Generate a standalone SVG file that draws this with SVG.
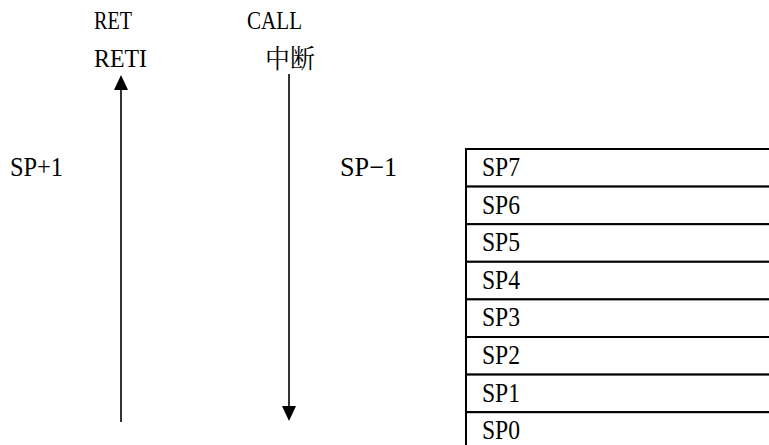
<svg xmlns="http://www.w3.org/2000/svg" width="769" height="445" viewBox="0 0 769 445">
<style>
.t{font-family:"Liberation Serif","Noto Sans CJK SC",serif;font-size:26px;fill:#000}
.s{font-family:"Liberation Serif","Noto Sans CJK SC",serif;font-size:27px;fill:#000}
.c{font-family:"Noto Serif CJK SC","Noto Sans CJK SC",serif;font-size:26px;fill:#000}
.ln{stroke:#000;stroke-width:1.6;fill:none}
.cell{stroke:#000;stroke-width:2;fill:#fff}
</style>
<rect width="769" height="445" fill="#fff"/>
<g id="labels">
<text class="t" x="94" y="29" textLength="38" lengthAdjust="spacingAndGlyphs">RET</text>
<text class="t" x="94" y="67" textLength="53" lengthAdjust="spacingAndGlyphs">RETI</text>
<text class="t" x="247" y="29" textLength="55" lengthAdjust="spacingAndGlyphs">CALL</text>
<text class="c" x="265" y="68" textLength="50" lengthAdjust="spacingAndGlyphs">中断</text>
<text class="s" x="10" y="176" textLength="53" lengthAdjust="spacingAndGlyphs">SP+1</text>
<text class="s" x="340" y="176" textLength="57" lengthAdjust="spacingAndGlyphs">SP−1</text>
</g>
<g id="connectors">
<line class="ln" x1="121" y1="422" x2="121" y2="88"/>
<polygon points="121,75 114,90 128,90" fill="#000"/>
<line class="ln" x1="289" y1="74" x2="289" y2="408"/>
<polygon points="289,421 282,406 296,406" fill="#000"/>
</g>
<g id="stack">
<g id="sp7"><rect class="cell" x="466" y="149" width="310" height="37.6"/><text class="s" x="482" y="176" textLength="38" lengthAdjust="spacingAndGlyphs">SP7</text></g>
<g id="sp6"><rect class="cell" x="466" y="186.6" width="310" height="37.6"/><text class="s" x="482" y="213.6" textLength="38" lengthAdjust="spacingAndGlyphs">SP6</text></g>
<g id="sp5"><rect class="cell" x="466" y="224.2" width="310" height="37.6"/><text class="s" x="482" y="251.2" textLength="38" lengthAdjust="spacingAndGlyphs">SP5</text></g>
<g id="sp4"><rect class="cell" x="466" y="261.8" width="310" height="37.6"/><text class="s" x="482" y="288.8" textLength="38" lengthAdjust="spacingAndGlyphs">SP4</text></g>
<g id="sp3"><rect class="cell" x="466" y="299.4" width="310" height="37.6"/><text class="s" x="482" y="326.4" textLength="38" lengthAdjust="spacingAndGlyphs">SP3</text></g>
<g id="sp2"><rect class="cell" x="466" y="337" width="310" height="37.6"/><text class="s" x="482" y="364" textLength="38" lengthAdjust="spacingAndGlyphs">SP2</text></g>
<g id="sp1"><rect class="cell" x="466" y="374.6" width="310" height="37.6"/><text class="s" x="482" y="401.6" textLength="38" lengthAdjust="spacingAndGlyphs">SP1</text></g>
<g id="sp0"><rect class="cell" x="466" y="412.2" width="310" height="40"/><text class="s" x="482" y="439" textLength="38" lengthAdjust="spacingAndGlyphs">SP0</text></g>
</g>
</svg>
